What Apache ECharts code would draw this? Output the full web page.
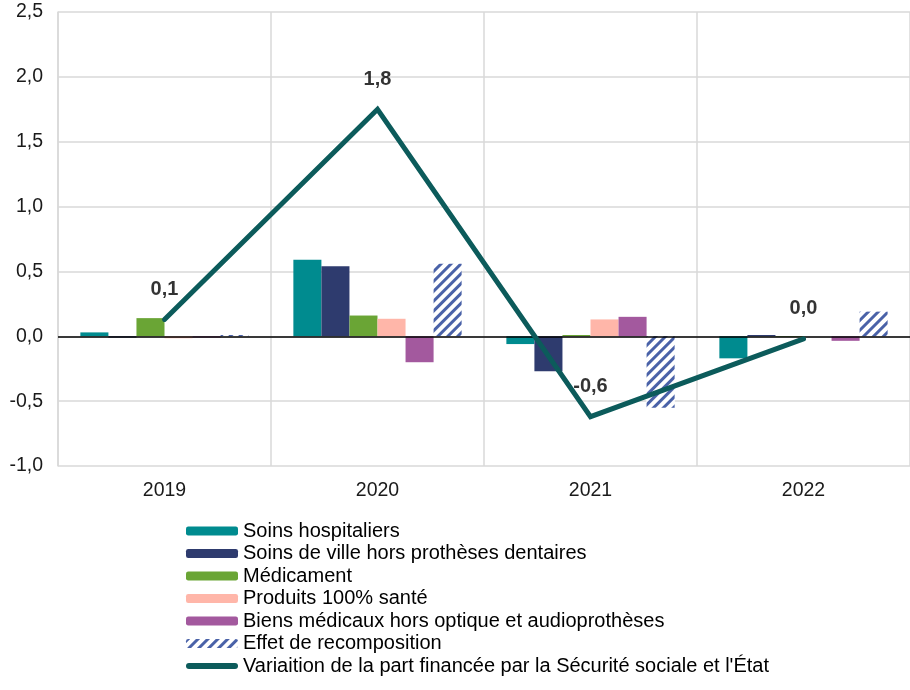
<!DOCTYPE html>
<html><head><meta charset="utf-8">
<script src="https://cdn.jsdelivr.net/npm/echarts@6/dist/echarts.min.js"></script>
<style>html,body{margin:0;padding:0;background:#fff}#c{width:910px;height:690px}</style>
</head><body><div id="c"></div>
<script>
var categories = ['2019', '2020', '2021', '2022'];
var soinsHosp = [0.03, 0.59, -0.06, -0.17];
var soinsVille = [-0.01, 0.54, -0.27, 0.01];
var medicament = [0.14, 0.16, 0.01, -0.005];
var produits100 = [-0.015, 0.135, 0.13, 0.0];
var biensMed = [-0.01, -0.20, 0.15, -0.035];
var recompo = [0.01, 0.56, -0.55, 0.19];
var variation = [0.13, 1.75, -0.62, -0.02];
var yTicks = [-1.0, -0.5, 0.0, 0.5, 1.0, 1.5, 2.0, 2.5];

var names = ['Soins hospitaliers', 'Soins de ville hors prothèses dentaires', 'Médicament',
  'Produits 100% santé', 'Biens médicaux hors optique et audioprothèses', 'Effet de recomposition',
  "Variaition de la part financée par la Sécurité sociale et l'État"];
var colors = ['#008B8F', '#2E3B6E', '#6AA535', '#FFB6A9', '#A3599E', '#4A62A8', '#0C5B5B'];
var FONT = 'Liberation Sans, Arial, sans-serif';
function fmt(v){ return (Math.round(v*10)/10).toFixed(1).replace('.', ',').replace('-0,0','0,0'); }

var barData = [soinsHosp, soinsVille, medicament, produits100, biensMed];
var series = barData.map(function(d, i){
  var s = { name: names[i], type: 'bar', data: d, barGap: '0%', barCategoryGap: '21%',
    itemStyle: { color: colors[i] } };
  if (i === 0) {
    s.markLine = { silent: true, symbol: 'none', label: { show: false },
      lineStyle: { color: '#000', width: 1.5, type: 'solid' }, data: [{ yAxis: 0 }] };
  }
  return s;
});
series.push({ name: names[5], type: 'bar', data: recompo, barGap: '0%', barCategoryGap: '21%',
  itemStyle: { color: '#ffffff', decal: { symbol: 'rect', color: colors[5], backgroundColor: '#ffffff',
    dashArrayX: [1, 0], dashArrayY: [3, 4], rotation: -Math.PI / 4 } } });
series.push({ name: names[6], type: 'line', data: variation, symbol: 'none', z: 5,
  lineStyle: { color: colors[6], width: 5, cap: 'round', join: 'miter' }, itemStyle: { color: colors[6] } });
series.push({ name: 'labels', type: 'scatter', data: variation, symbolSize: 0, z: 6, silent: true,
  label: { show: true, position: 'top', distance: 20, formatter: function(p){ return fmt(p.value); },
    fontFamily: FONT, fontSize: 20, fontWeight: 'bold', color: '#000' } });

var legendData = names.slice(0, 6).map(function(n){ return { name: n }; });
legendData.push({ name: names[6], icon: 'path://M3,0 L49,0 A3,3 0 0 1 49,6 L3,6 A3,3 0 0 1 3,0 Z' });

var chart = echarts.init(document.getElementById('c'));
chart.setOption({
  animation: false,
  color: colors,
  textStyle: { fontFamily: FONT },
  grid: { left: 58, right: 0, top: 12, bottom: 224, containLabel: false },
  xAxis: { type: 'category', data: categories,
    axisLine: { show: false }, axisTick: { show: false },
    axisLabel: { fontSize: 19.5, color: '#1a1a1a', margin: 15, fontFamily: FONT },
    splitLine: { show: true, interval: 0, lineStyle: { color: '#d9d9d9', width: 1.5 } } },
  yAxis: { type: 'value', min: yTicks[0], max: yTicks[yTicks.length-1], interval: 0.5,
    axisLine: { show: true, lineStyle: { color: '#d9d9d9', width: 1.5 } }, axisTick: { show: false },
    axisLabel: { fontSize: 19.5, color: '#1a1a1a', margin: 15, fontFamily: FONT, formatter: fmt },
    splitLine: { lineStyle: { color: '#d9d9d9', width: 1.5 } } },
  legend: { orient: 'vertical', left: 186, top: 521, padding: 0, itemWidth: 52, itemHeight: 9, itemGap: 2.5,
    symbolKeepAspect: true, data: legendData,
    textStyle: { fontSize: 20, color: '#000', fontFamily: FONT } },
  series: series
});
</script></body></html>
